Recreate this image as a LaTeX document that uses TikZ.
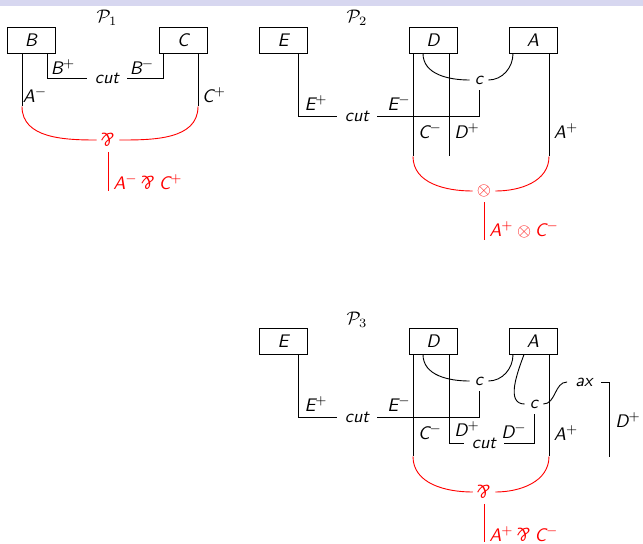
\documentclass[tikz,border=0pt]{standalone}
\usepackage{fontspec}
\usepackage{graphicx}
\usetikzlibrary{calc}
\definecolor{band}{RGB}{215,215,240}
\newcommand\lit[2]{\textit{#1}\ensuremath{^{#2}}}
\newcommand\mypar{\rotatebox[origin=c]{180}{\textit{\&}}}
\begin{document}
\begin{tikzpicture}[x=0.55pt,y=0.55pt,
  font=\sffamily,
  ln/.style={draw=black, line width=0.5pt},
  rd/.style={draw=red, line width=0.5pt},
  box/.style={draw=black, line width=0.5pt, minimum width=26.4pt, minimum height=14.3pt, inner sep=0pt, font=\sffamily\itshape},
  lbl/.style={inner sep=0pt, font=\sffamily\itshape},
  gap/.style={inner xsep=4.4pt, inner ysep=0pt, font=\sffamily\itshape},
  cn/.style={inner xsep=2.7pt, inner ysep=2.7pt, font=\sffamily\itshape},
  sym/.style={inner xsep=2.2pt, inner ysep=2.7pt, text=red, font=\sffamily\itshape},
  rlbl/.style={lbl, text=red, anchor=west}]
\useasboundingbox (0,0) rectangle (643,-543);
\fill[band] (0,0) rectangle (643,-6);

% ---------- P1 ----------
\node[lbl] (p1) at (107,-18) {$\mathcal{P}_1$};
\node[box] (B1) at (31,-40) {B};
\node[box] (C1) at (183,-40) {C};
\node[gap] (cut1) at (107,-78) {cut};
\node[lbl] (b1p) at (63,-67) {\lit{B}{+}};
\node[lbl] (b1m) at (142,-67) {\lit{B}{-}};
\node[lbl] (a1m) at (35,-95) {\lit{A}{-}};
\node[lbl] (c1p) at (214,-95) {\lit{C}{+}};
\node[sym] (par1) at (108,-140) {\mypar};
\coordinate (e1) at (108,-191);
\draw[ln] (cut1.west) -| ($(B1.south)+(16,0)$);
\draw[ln] (cut1.east) -| ($(C1.south)+(-20,0)$);
\draw[ln] ($(B1.south)+(-9,0)$) -- ++(0,-53) coordinate (l1);
\draw[rd] (l1) to[out=-90,in=180] (par1.west);
\draw[ln] ($(C1.south)+(15,0)$) -- ++(0,-53) coordinate (r1);
\draw[rd] (r1) to[out=-90,in=0] (par1.east);
\draw[rd] (par1.south) -- (e1);
\node[rlbl] (f1) at (113,-182) {\lit{A}{-}\hspace{2pt}\mypar\hspace{2pt}\lit{C}{+}};

% ---------- P2 ----------
\node[lbl] (p2) at (357,-18) {$\mathcal{P}_2$};
\node[box] (E2) at (283,-40) {E};
\node[box] (D2) at (433,-40) {D};
\node[box] (A2) at (533,-40) {A};
\node[gap] (cut2) at (357,-116) {cut};
\node[cn] (c2) at (479,-80) {c};
\node[lbl] (e2p) at (316,-103) {\lit{E}{+}};
\node[lbl] (e2m) at (399,-103) {\lit{E}{-}};
\node[lbl] (c2m) at (430,-131) {\lit{C}{-}};
\node[lbl] (d2p) at (467,-131) {\lit{D}{+}};
\node[lbl] (a2p) at (566,-131) {\lit{A}{+}};
\draw[ln] (cut2.west) -| ($(E2.south)+(15,0)$);
\draw[ln] (cut2.east) -| (c2.south);
\draw[ln] ($(D2.south)+(-10,0)$) to[out=-90,in=180] (c2.west);
\draw[ln] ($(A2.south)+(-20,0)$) to[out=-90,in=0] (c2.east);
\draw[ln] ($(D2.south)+(-20,0)$) -- ++(0,-103) coordinate (l2);
\draw[ln] ($(D2.south)+(16,0)$) -- ++(0,-103) coordinate (m2);
\draw[ln] ($(A2.south)+(16,0)$) -- ++(0,-103) coordinate (r2);
\node[sym] (t2) at (484,-191) {$\otimes$};
\draw[rd] (l2) to[out=-90,in=180] (t2.west);
\draw[rd] (r2) to[out=-90,in=0] (t2.east);
\coordinate (e2) at (484,-240);
\draw[rd] (t2.south) -- (e2);
\node[rlbl] (f2) at (489,-230) {\lit{A}{+}\hspace{2pt}$\otimes$\hspace{2pt}\lit{C}{-}};

% ---------- P3 ----------
\node[lbl] (p3) at (357,-320) {$\mathcal{P}_3$};
\node[box] (E3) at (283,-341) {E};
\node[box] (D3) at (433,-341) {D};
\node[box] (A3) at (533,-341) {A};
\node[gap] (cut3a) at (357,-417) {cut};
\node[cn] (c3a) at (479,-381) {c};
\node[gap] (cut3b) at (484,-443) {cut};
\node[cn] (c3b) at (534,-404) {c};
\node[gap] (ax) at (584,-382) {ax};
\node[lbl] (e3p) at (316,-404) {\lit{E}{+}};
\node[lbl] (e3m) at (399,-404) {\lit{E}{-}};
\node[lbl] (c3m) at (430,-432) {\lit{C}{-}};
\node[lbl] (d3p) at (467,-429) {\lit{D}{+}};
\node[lbl] (d3m) at (514,-431) {\lit{D}{-}};
\node[lbl] (a3p) at (566,-433) {\lit{A}{+}};
\node[lbl] (dxp) at (628,-420) {\lit{D}{+}};
\draw[ln] (cut3a.west) -| ($(E3.south)+(15,0)$);
\draw[ln] (cut3a.east) -| (c3a.south);
\draw[ln] ($(D3.south)+(-10,0)$) to[out=-90,in=180] (c3a.west);
\draw[ln] ($(A3.south)+(-20,0)$) to[out=-90,in=0] (c3a.east);
\draw[ln] (cut3b.west) -| ($(D3.south)+(16,0)$);
\draw[ln] (cut3b.east) -| (c3b.south);
\draw[ln] ($(A3.south)+(-9,0)$) to[out=-110,in=180] (c3b.west);
\draw[ln] (c3b.east) to[out=0,in=180] (ax.west);
\coordinate (dax) at (609,-457);
\draw[ln] (ax.east) -| (dax);
\draw[ln] ($(D3.south)+(-20,0)$) -- ++(0,-102) coordinate (l3);
\draw[ln] ($(A3.south)+(16,0)$) -- ++(0,-102) coordinate (r3);
\node[sym] (par3) at (484,-492) {\mypar};
\draw[rd] (l3) to[out=-90,in=180] (par3.west);
\draw[rd] (r3) to[out=-90,in=0] (par3.east);
\coordinate (e3) at (484,-542);
\draw[rd] (par3.south) -- (e3);
\node[rlbl] (f3) at (489,-534) {\lit{A}{+}\hspace{2pt}\mypar\hspace{2pt}\lit{C}{-}};
\end{tikzpicture}
\end{document}
